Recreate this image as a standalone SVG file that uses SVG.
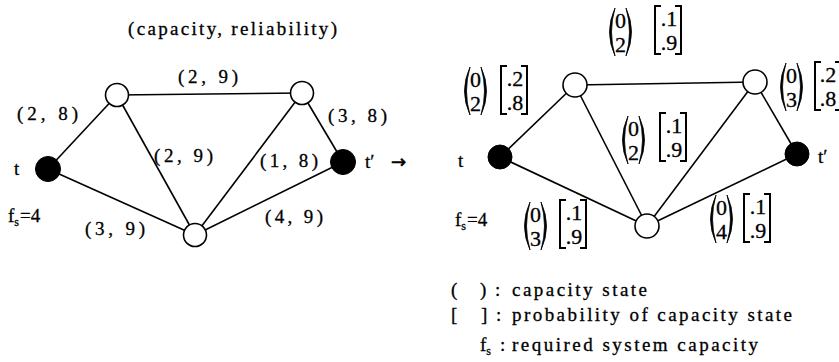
<svg xmlns="http://www.w3.org/2000/svg" xmlns:xlink="http://www.w3.org/1999/xlink" width="839" height="362" viewBox="0 0 839 362">
<style>
text{font-family:"Liberation Serif","DejaVu Serif",serif;fill:#000;stroke:#000;stroke-width:0.3;}
.lb{font-size:19px;}
.dg{font-size:22px;text-anchor:middle;}
.arw{font-family:"DejaVu Sans",sans-serif;font-size:18px;stroke-width:0.6;}
.edge{stroke:#000;stroke-width:1.6;fill:none;}
.open{fill:#fff;stroke:#000;stroke-width:1.6;}
.full{fill:#000;stroke:#000;stroke-width:1;}
.br{fill:none;stroke:#000;stroke-width:2;}
</style>
<defs>
<g id="paren">
<path d="M10 1 Q-1 25 10 49 Q3 25 10 1 Z" fill="#000" stroke="#000" stroke-width="0.8"/>
<path d="M21 1 Q32 25 21 49 Q28 25 21 1 Z" fill="#000" stroke="#000" stroke-width="0.8"/>
</g>
<g id="brk">
<path class="br" d="M8 1 H2 V49 H8"/>
<path class="br" d="M22 1 H28 V49 H22"/>
</g>
</defs>
<rect width="839" height="362" fill="#fff"/>

<text class="lb" x="128" y="35" textLength="209" lengthAdjust="spacing">(capacity, reliability)</text>

<g id="connectors">
<line class="edge" x1="48" y1="169" x2="117" y2="95"/>
<line class="edge" x1="117" y1="95" x2="302" y2="93"/>
<line class="edge" x1="117" y1="95" x2="195" y2="235"/>
<line class="edge" x1="302" y1="93" x2="195" y2="235"/>
<line class="edge" x1="302" y1="93" x2="343" y2="162"/>
<line class="edge" x1="48" y1="169" x2="195" y2="235"/>
<line class="edge" x1="343" y1="162" x2="195" y2="235"/>

<line class="edge" x1="500" y1="157" x2="575" y2="85"/>
<line class="edge" x1="575" y1="85" x2="755" y2="82"/>
<line class="edge" x1="575" y1="85" x2="647" y2="226"/>
<line class="edge" x1="755" y1="82" x2="647" y2="226"/>
<line class="edge" x1="755" y1="82" x2="797" y2="154"/>
<line class="edge" x1="500" y1="157" x2="647" y2="226"/>
<line class="edge" x1="797" y1="154" x2="647" y2="226"/>
</g>

<g id="L-t"><circle class="full" cx="48" cy="169" r="12.5"/><text class="lb" x="14" y="175">t</text></g>
<g id="L-a"><circle class="open" cx="117" cy="95" r="11.5"/></g>
<g id="L-b"><circle class="open" cx="302" cy="93" r="11.5"/></g>
<g id="L-tp"><circle class="full" cx="343" cy="162" r="12.5"/><text class="lb" x="365" y="168">t′</text></g>
<g id="L-c"><circle class="open" cx="195" cy="235" r="11.5"/></g>

<g id="L-labels">
<text class="lb" x="178" y="83" textLength="60" lengthAdjust="spacing">(2, 9)</text>
<text class="lb" x="17" y="120" textLength="61" lengthAdjust="spacing">(2, 8)</text>
<text class="lb" x="328" y="122" textLength="59" lengthAdjust="spacing">(3, 8)</text>
<text class="lb" x="154" y="162" textLength="59" lengthAdjust="spacing">(2, 9)</text>
<text class="lb" x="260" y="167" textLength="58" lengthAdjust="spacing">(1, 8)</text>
<text class="lb" x="265" y="223" textLength="58" lengthAdjust="spacing">(4, 9)</text>
<text class="lb" x="85" y="235" textLength="60" lengthAdjust="spacing">(3, 9)</text>
<text class="lb" x="8" y="222">f<tspan font-size="12" dy="4">s</tspan><tspan dy="-4" dx="1">=4</tspan></text>
</g>

<text class="arw" x="391" y="168">→</text>

<g id="R-t"><circle class="full" cx="500" cy="157" r="12"/><text class="lb" x="458" y="167">t</text></g>
<g id="R-a"><circle class="open" cx="575" cy="85" r="12"/></g>
<g id="R-b"><circle class="open" cx="755" cy="82" r="12"/></g>
<g id="R-tp"><circle class="full" cx="797" cy="154" r="12"/><text class="lb" x="818" y="163">t′</text></g>
<g id="R-c"><circle class="open" cx="647" cy="226" r="12"/></g>

<text class="lb" x="455" y="226">f<tspan font-size="12" dy="4">s</tspan><tspan dy="-4" dx="1">=4</tspan></text>

<g id="m-top">
<use xlink:href="#paren" x="605" y="7"/>
<text class="dg" x="620.5" y="28">0</text><text class="dg" x="620.5" y="52">2</text>
<use xlink:href="#brk" x="653" y="5"/>
<text class="dg" x="669" y="26">.1</text><text class="dg" x="669" y="50">.9</text>
</g>
<g id="m-left">
<use xlink:href="#paren" x="460" y="66"/>
<text class="dg" x="475.5" y="87">0</text><text class="dg" x="475.5" y="111">2</text>
<use xlink:href="#brk" x="499" y="65"/>
<text class="dg" x="515" y="86">.2</text><text class="dg" x="515" y="110">.8</text>
</g>
<g id="m-center">
<use xlink:href="#paren" x="618" y="115"/>
<text class="dg" x="633.5" y="136">0</text><text class="dg" x="633.5" y="160">2</text>
<use xlink:href="#brk" x="658" y="112"/>
<text class="dg" x="674" y="133">.1</text><text class="dg" x="674" y="157">.9</text>
</g>
<g id="m-right">
<use xlink:href="#paren" x="776" y="62"/>
<text class="dg" x="791.5" y="83">0</text><text class="dg" x="791.5" y="107">3</text>
<use xlink:href="#brk" x="813" y="61"/>
<text class="dg" x="828" y="82">.2</text><text class="dg" x="828" y="106">.8</text>
</g>
<g id="m-bl">
<use xlink:href="#paren" x="520" y="201"/>
<text class="dg" x="535.5" y="222">0</text><text class="dg" x="535.5" y="246">3</text>
<use xlink:href="#brk" x="558" y="199"/>
<text class="dg" x="574" y="220">.1</text><text class="dg" x="574" y="244">.9</text>
</g>
<g id="m-br">
<use xlink:href="#paren" x="706" y="194"/>
<text class="dg" x="721.5" y="215">0</text><text class="dg" x="721.5" y="239">4</text>
<use xlink:href="#brk" x="742" y="193"/>
<text class="dg" x="758" y="214">.1</text><text class="dg" x="758" y="238">.9</text>
</g>

<g id="legend">
<text class="lb" x="451" y="296">(</text><text class="lb" x="480" y="296">)</text><text class="lb" x="495" y="296">:</text>
<text class="lb" x="512" y="296" textLength="135" lengthAdjust="spacing">capacity state</text>
<text class="lb" x="451" y="321">[</text><text class="lb" x="481" y="321">]</text><text class="lb" x="496" y="321">:</text>
<text class="lb" x="512" y="321" textLength="280" lengthAdjust="spacing">probability of capacity state</text>
<text class="lb" x="480" y="351">f<tspan font-size="12" dy="4">s</tspan></text><text class="lb" x="500" y="351">:</text>
<text class="lb" x="512" y="351" textLength="246" lengthAdjust="spacing">required system capacity</text>
</g>
</svg>
